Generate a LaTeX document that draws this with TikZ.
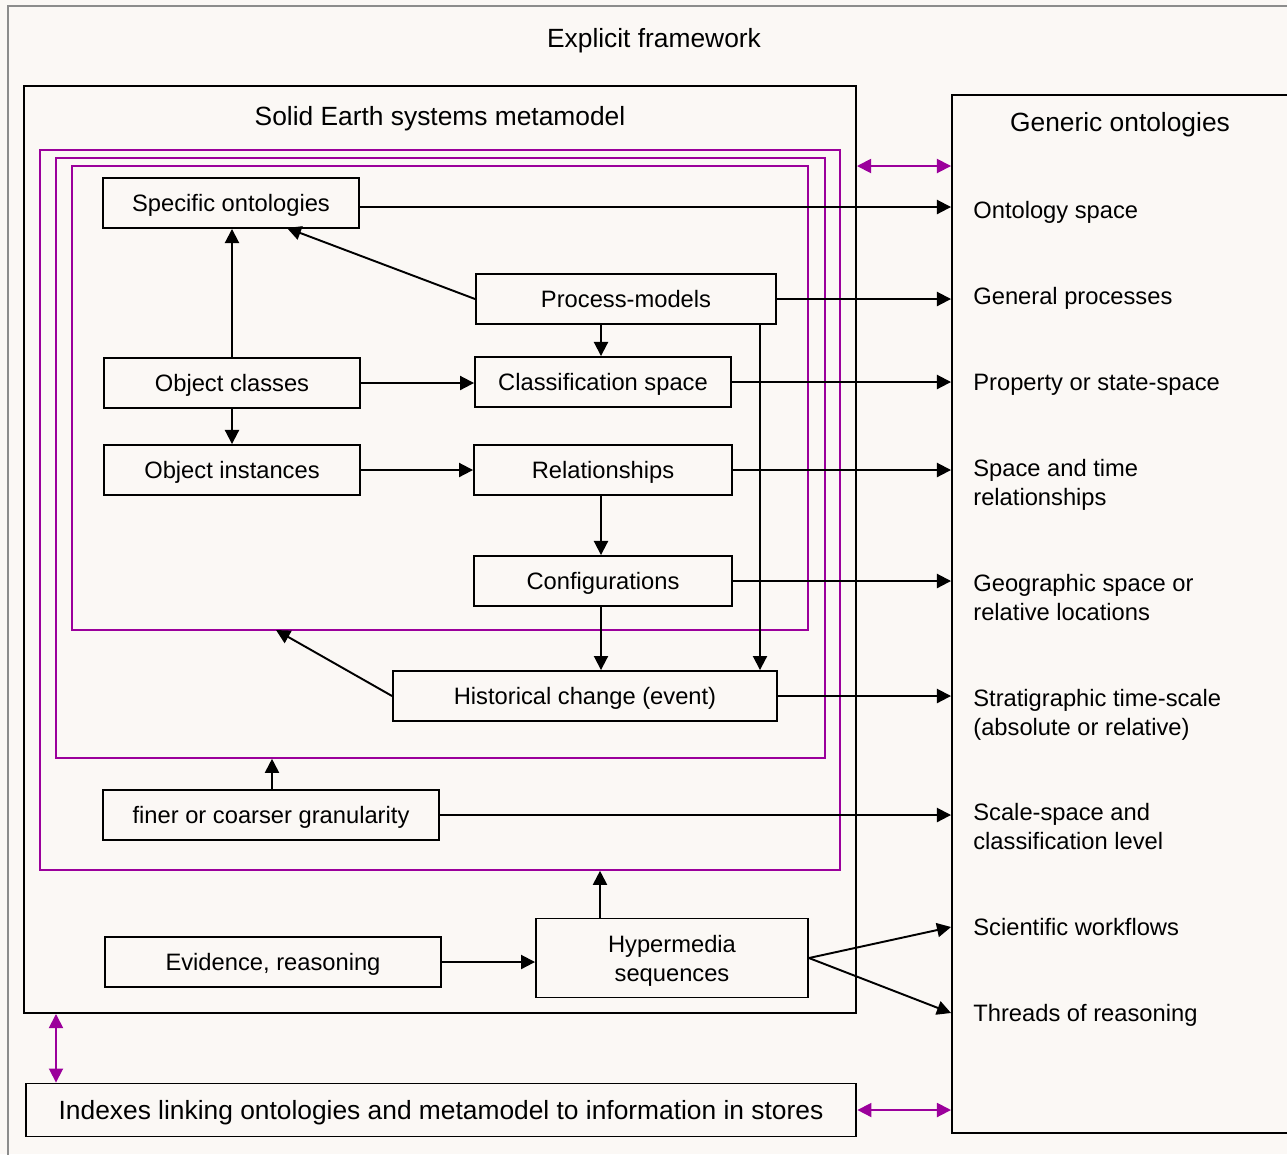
\documentclass[tikz,border=0pt]{standalone}
\usepackage{fontspec}
\setmainfont{Liberation Sans}
\usetikzlibrary{arrows.meta,fit,positioning}
\definecolor{paper}{RGB}{251,248,245}
\definecolor{layerpurple}{RGB}{155,0,155}
\definecolor{framegray}{RGB}{140,140,140}
\tikzset{
  box/.style={draw, line width=1.1pt, minimum height=1cm, inner sep=0pt,
    text depth=0pt, font=\fontsize{13.5}{16.4}\selectfont},
  frame/.style={draw, line width=1.1pt, inner sep=0pt},
  layer/.style={draw=layerpurple, line width=0.9pt, inner sep=0pt},
  item/.style={anchor=west, align=left, inner sep=0pt, text depth=0pt,
    font=\fontsize{13.5}{16.4}\selectfont},
  heading/.style={inner sep=0pt, text depth=0pt, font=\fontsize{15}{18}\selectfont},
  link/.style={-{Triangle[length=8pt,width=8pt]}, line width=1.1pt},
  twoway/.style={{Triangle[length=8pt,width=8pt]}-{Triangle[length=8pt,width=8pt]},
    draw=layerpurple, line width=1pt}
}
\begin{document}
\begin{tikzpicture}[x=0.02cm,y=-0.02cm]
	\useasboundingbox (0,0) rectangle (1287,1154);
	\fill[paper] (0,0) rectangle (1287,1154);
	\draw[framegray, line width=1pt] (8,1160) -- (8,6) -- (1300,6);
	\node[heading] at (654,38) (explicit) {Explicit framework};
	% outer boxes
	\coordinate (m1) at (24,86);   \coordinate (m2) at (856,1013);
	\node[frame, fit=(m1)(m2)] (meta) {};
	\node[heading] at (440,116) (metatitle) {Solid Earth systems metamodel};
	\coordinate (g1) at (952,95);  \coordinate (g2) at (1300,1133);
	\node[frame, fit=(g1)(g2)] (gen) {};
	\node[heading] at (1120,122) (gentitle) {Generic ontologies};
	% purple layers
	\coordinate (a1) at (40,150);  \coordinate (a2) at (840,870);
	\node[layer, fit=(a1)(a2)] (pout) {};
	\coordinate (b1) at (56,158);  \coordinate (b2) at (825,758);
	\node[layer, fit=(b1)(b2)] (pmid) {};
	\coordinate (c1) at (72,166);  \coordinate (c2) at (808,630);
	\node[layer, fit=(c1)(c2)] (pin) {};
	% boxes
	\node[box, minimum width=5.12cm] at (231,203) (spec) {Specific ontologies};
	\node[box, minimum width=6cm]    at (626,299) (proc) {Process-models};
	\node[box, minimum width=5.12cm] at (232,383) (ocls) {Object classes};
	\node[box, minimum width=5.12cm] at (603,382) (clsp) {Classification space};
	\node[box, minimum width=5.12cm] at (232,470) (oins) {Object instances};
	\node[box, minimum width=5.16cm] at (603,470) (rel)  {Relationships};
	\node[box, minimum width=5.16cm] at (603,581) (conf) {Configurations};
	\node[box, minimum width=7.68cm] at (585,696) (hist) {Historical change (event)};
	\node[box, minimum width=6.72cm] at (271,815) (gran) {finer or coarser granularity};
	\node[box, minimum width=6.72cm] at (273,962) (evid) {Evidence, reasoning};
	\node[box, minimum width=5.44cm, minimum height=1.58cm, align=center]
		at (672,958) (hyper) {Hypermedia\\sequences};
	\node[box, minimum width=16.62cm, minimum height=1.06cm,
		font=\fontsize{15}{18}\selectfont] at (441,1110) (index)
		{Indexes linking ontologies and metamodel to information in stores};
	% generic ontology items
	\node[item] at (973,210) (ospace) {Ontology space};
	\node[item] at (973,296) (gproc)  {General processes};
	\node[item] at (973,382) (pstate) {Property or state-space};
	\node[item] at (973,482) (stime)  {Space and time\\relationships};
	\node[item] at (973,597) (geo)    {Geographic space or\\relative locations};
	\node[item] at (973,712) (strat)  {Stratigraphic time-scale\\(absolute or relative)};
	\node[item] at (973,826) (scale)  {Scale-space and\\classification level};
	\node[item] at (973,927) (swork)  {Scientific workflows};
	\node[item] at (973,1013) (thread) {Threads of reasoning};
	% free ends on the purple layers
	\coordinate (hin)  at (276,630);
	\coordinate (proctip) at (287,228);
	% links inside the metamodel
	\draw[link] (ocls) -- (spec.south -| ocls);
	\draw[link] (proc.west) -- (proctip);
	\draw[link] (proc.south -| 601,0) -- (clsp.north -| 601,0);
	\draw[link] (ocls.east) -- (clsp.west |- ocls.east);
	\draw[link] (ocls) -- (oins);
	\draw[link] (oins.east) -- (rel.west);
	\draw[link] (rel.south -| 601,0) -- (conf.north -| 601,0);
	\draw[link] (conf.south -| 601,0) -- (hist.north -| 601,0);
	\draw[link] (proc.south -| 760,0) -- (hist.north -| 760,0);
	\draw[link] (hist.west) -- (hin);
	\draw[link] (gran.north -| 272,0) -- (pmid.south -| 272,0);
	\draw[link] (hyper.north -| 600,0) -- (pout.south -| 600,0);
	\draw[link] (evid.east) -- (hyper.west |- evid.east);
	% links to the generic ontologies
	\draw[link] ([yshift=-0.08cm]spec.east) -- ([yshift=-0.08cm]spec.east -| gen.west);
	\draw[link] (proc.east) -- (proc.east -| gen.west);
	\draw[link] (clsp.east) -- (clsp.east -| gen.west);
	\draw[link] (rel.east)  -- (rel.east -| gen.west);
	\draw[link] (conf.east) -- (conf.east -| gen.west);
	\draw[link] (hist.east) -- (hist.east -| gen.west);
	\draw[link] (gran.east) -- (gran.east -| gen.west);
	\draw[link] (hyper.east) -- (swork.west -| gen.west);
	\draw[link] (hyper.east) -- (thread.west -| gen.west);
	% two-way links
	\draw[twoway] (meta.east |- 0,166) -- (gen.west |- 0,166);
	\draw[twoway] (index.east) -- (index.east -| gen.west);
	\draw[twoway] (meta.south -| 56,0) -- (index.north -| 56,0);
\end{tikzpicture}
\end{document}
